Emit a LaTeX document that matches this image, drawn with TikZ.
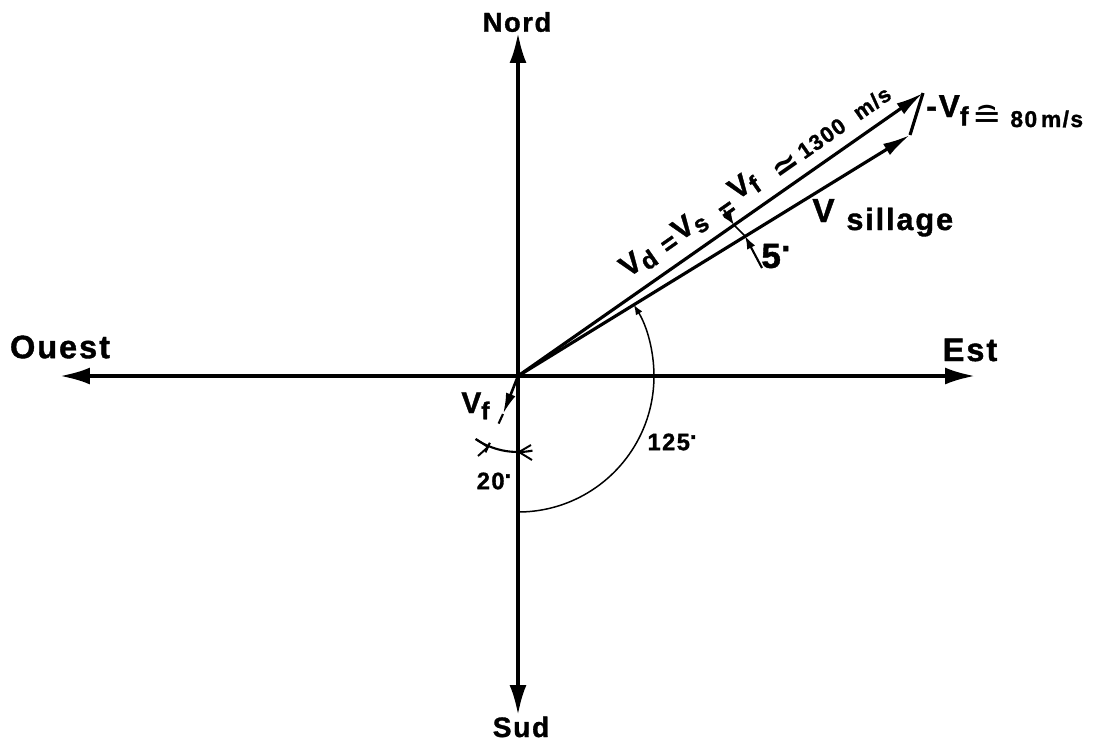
\documentclass[tikz,border=0pt]{standalone}
\usepackage{fontspec}
\setmainfont{Liberation Sans}
\newfontfamily\lab{Liberation Sans}[LetterSpace=6, BoldFeatures={FakeBold=1.2}]
\newfontfamily\dv{DejaVu Sans}
\usetikzlibrary{arrows.meta,calc}
\newcommand\fsz[1]{\fontsize{#1}{#1}\selectfont}
\newcommand\lowsub[2]{\raisebox{-#2}{#1}}
\newcommand\dg{\raisebox{0.9ex}{.}}
\newcommand\putat[3]{\rlap{\hspace*{#1}\raisebox{#2}{#3}}}
\begin{document}
\begin{tikzpicture}[x=0.02cm,y=-0.02cm,
  axis/.style={line width=2pt,{Latex[length=0.6cm,width=0.34cm]}-{Latex[length=0.6cm,width=0.34cm]}},
  vec/.style={line width=1.8pt,-{Latex[length=0.55cm,width=0.26cm]}},
  thinarc/.style={line width=0.85pt},
  lbl/.style={font=\lab\bfseries, inner sep=0pt}]
\path[use as bounding box] (0,0) rectangle (1098,741);
% axes
\coordinate (O) at (518,376);
\coordinate (N) at (518,33);
\coordinate (S) at (518,715);
\coordinate (W) at (60,376);
\coordinate (E) at (975,376);
\draw[axis] (S) -- (N);
\draw[axis] (W) -- (E);
\node[lbl, font=\lab\bfseries\fsz{15.5}] (nord) at (517,22) {Nord};
\node[lbl, font=\lab\bfseries\fsz{16}, anchor=base] (sud) at (521,737) {Sud};
\node[lbl, font=\lab\bfseries\fsz{18.5}] (ouest) at (60,347) {Ouest};
\node[lbl, font=\lab\bfseries\fsz{18.5}] (est) at (970,350) {Est};
% vectors
\coordinate (VD) at (923,93);
\coordinate (VS) at (910,135);
\draw[vec] (O) -- (VD);
\draw[vec] (O) -- (VS);
\draw[line width=1.8pt] (VS) -- (VD);
\coordinate (VF) at (503,414);
\coordinate (VFend) at (481,462);
\draw[line width=1.5pt,-{Latex[length=0.42cm,width=0.2cm]}] (O) -- (VF);
\draw[line width=1.2pt, dash pattern=on 6pt off 12pt] (VF) -- (VFend);
% 125 arc
\draw[thinarc,-{Latex[length=0.2cm,width=0.15cm]}] (O) ++(0,136) arc[start angle=-90, end angle=31.6, radius=2.72cm];
\node[lbl, font=\lab\bfseries\fsz{13.5}] (a125) at (672,442) {125\dg};
% 20 arc
\draw[thinarc, line width=1.2pt] (O) ++(14.5,74.6) arc[start angle=-79, end angle=-124, radius=1.52cm];
\draw[thinarc, line width=1.1pt] (531,445) -- (519,452) -- (532,460);
\draw[thinarc, line width=1.1pt] (476,439) -- (488,447) -- (478,456);
\node[lbl, font=\lab\bfseries\fsz{13.5}] (a20) at (494,481) {20\dg};
% 5 degree
\draw[line width=1pt] (734,225) -- (745,236);
\draw[line width=1.2pt,-{Latex[length=0.26cm,width=0.18cm]}] (762,268) -- (745,236);
\draw[line width=1.2pt,-{Latex[length=0.24cm,width=0.18cm]}] (724,210) -- (734,225);
\node[lbl, font=\lab\bfseries\fsz{20}] (a5) at (776,256) {5\dg};
% Vf label
\node[lbl, font=\lab\bfseries\fsz{17}, anchor=base west] (vf) at (461,413) {V\lowsub{\fsz{14}f}{0.4ex}};
% V sillage
\node[lbl, font=\lab\bfseries\fsz{19}, anchor=base west] (vsil) at (812,222) {V};
\node[lbl, font=\lab\bfseries\fsz{17.5}, anchor=base west] (sil) at (846,230) {sillage};
% -Vf label
\node[lbl, font=\lab\bfseries\fsz{18}, anchor=base west] (mvf) at (926,117) {-V\lowsub{\fsz{15}f}{0.5ex}\hspace{2pt}{\dv\mdseries\fsz{20}\raisebox{-6.5pt}{≘}}\hspace{5pt}\raisebox{-5.7pt}{\fsz{13}80\,m/s}};
% Vd label along the line
\begin{scope}[shift={(O)}, rotate=35, x=0.02cm, y=0.02cm, transform shape]
  \node[lbl, font=\lab\bfseries\fsz{17}, anchor=base west] (vd) at (146,17) {%
    \putat{0pt}{0pt}{V\lowsub{\fsz{14}d}{0.35ex}}%
    \putat{26.1pt}{-2.3pt}{\fsz{15}=}%
    \putat{36.3pt}{0pt}{V\lowsub{\fsz{14}s}{0.35ex}}%
    \putat{64.1pt}{-5.1pt}{\fsz{15}=}%
    \putat{76pt}{0.6pt}{V\lowsub{\fsz{14}f}{0.35ex}}%
    \putat{102.6pt}{-5.1pt}{\dv\fsz{19}≃}%
    \hspace*{120.8pt}\raisebox{-2.3pt}{\fsz{12.5}1300\ \ m/s}};
\end{scope}
\end{tikzpicture}
\end{document}
